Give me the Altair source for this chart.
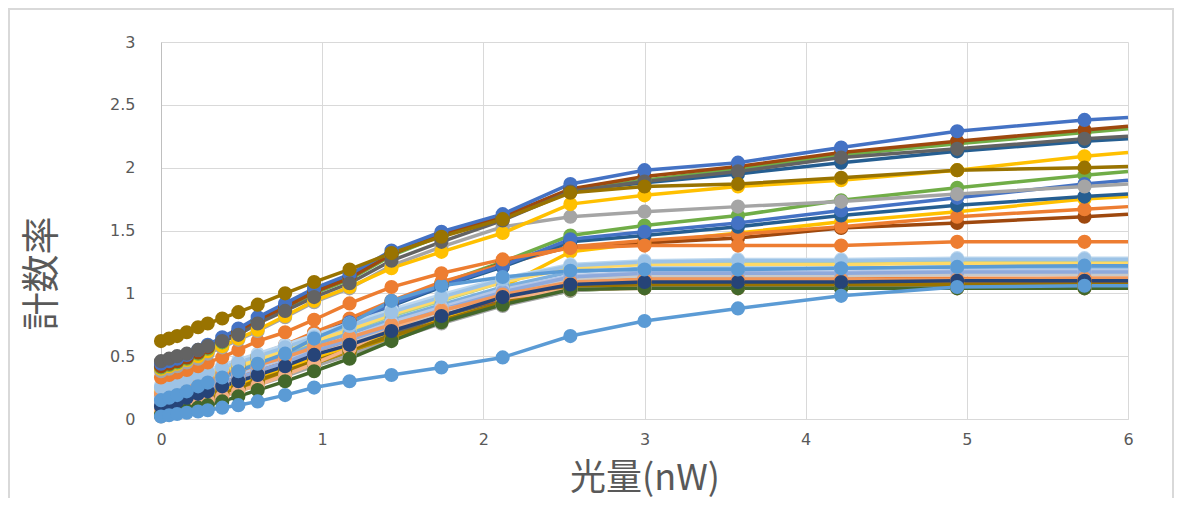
import altair as alt
import pandas as pd

# x positions of the measurement points (nW); last entry is the plot edge
x_vals = [0, 0.05, 0.1, 0.16, 0.23, 0.29, 0.38, 0.48, 0.60, 0.77, 0.95, 1.17,
          1.43, 1.74, 2.12, 2.54, 3.0, 3.58, 4.22, 4.94, 5.73, 6.0]

# ---- lower cluster (saturating near 1.0 - 1.3) ----
low_pale_green = [0.24,0.26,0.28,0.31,0.34,0.36,0.40,0.44,0.49,0.56,0.64,0.73,0.84,0.96,1.10,1.21,1.25,1.25,1.26,1.26,1.27,1.27]
low_pale_blue  = [0.27,0.29,0.31,0.34,0.37,0.39,0.43,0.47,0.52,0.59,0.67,0.76,0.87,0.99,1.12,1.23,1.26,1.27,1.27,1.28,1.28,1.28]
low_light_blue = [0.25,0.27,0.29,0.32,0.35,0.37,0.41,0.45,0.50,0.57,0.65,0.74,0.85,0.97,1.11,1.22,1.25,1.26,1.26,1.27,1.27,1.27]
low_light_grn  = [0.18,0.20,0.22,0.25,0.29,0.31,0.35,0.39,0.45,0.52,0.60,0.70,0.82,0.94,1.09,1.21,1.24,1.24,1.25,1.25,1.26,1.26]
low_light_yel  = [0.22,0.24,0.26,0.29,0.32,0.34,0.38,0.42,0.47,0.54,0.62,0.71,0.83,0.95,1.09,1.20,1.23,1.23,1.23,1.24,1.24,1.24]
low_sky        = [0.18,0.20,0.22,0.25,0.28,0.30,0.34,0.38,0.43,0.50,0.59,0.68,0.79,0.91,1.05,1.17,1.20,1.20,1.20,1.21,1.21,1.21]
low_lavender   = [0.16,0.18,0.20,0.23,0.26,0.28,0.32,0.36,0.41,0.48,0.56,0.65,0.77,0.89,1.03,1.14,1.17,1.17,1.17,1.18,1.18,1.18]
low_periwinkle = [0.12,0.14,0.16,0.19,0.22,0.24,0.29,0.33,0.38,0.45,0.54,0.63,0.74,0.87,1.01,1.13,1.16,1.16,1.16,1.17,1.17,1.17]
low_light_gray = [0.09,0.11,0.13,0.16,0.20,0.22,0.26,0.30,0.35,0.43,0.51,0.60,0.72,0.85,0.99,1.11,1.14,1.14,1.14,1.15,1.15,1.15]
low_orange     = [0.14,0.16,0.18,0.21,0.24,0.26,0.30,0.34,0.39,0.45,0.53,0.62,0.73,0.85,0.98,1.09,1.12,1.12,1.12,1.12,1.12,1.12]
low_lt_orange  = [0.20,0.22,0.24,0.26,0.29,0.31,0.35,0.38,0.43,0.49,0.57,0.65,0.75,0.86,0.99,1.09,1.11,1.11,1.11,1.11,1.12,1.12]
low_rust       = [0.11,0.13,0.15,0.18,0.21,0.23,0.27,0.31,0.36,0.43,0.51,0.60,0.71,0.83,0.96,1.07,1.10,1.10,1.10,1.10,1.10,1.10]
low_yellow     = [0.08,0.10,0.12,0.15,0.18,0.20,0.24,0.28,0.33,0.40,0.48,0.57,0.68,0.80,0.94,1.05,1.08,1.08,1.08,1.08,1.08,1.08]
low_olive      = [0.05,0.07,0.09,0.12,0.15,0.17,0.21,0.25,0.31,0.38,0.46,0.55,0.66,0.78,0.93,1.04,1.07,1.07,1.07,1.07,1.08,1.08]
low_gold       = [0.04,0.06,0.08,0.11,0.14,0.16,0.20,0.24,0.29,0.36,0.44,0.54,0.65,0.78,0.92,1.04,1.07,1.07,1.07,1.07,1.07,1.07]
low_dark_gray  = [0.06,0.07,0.09,0.11,0.14,0.16,0.20,0.24,0.29,0.36,0.44,0.54,0.67,0.82,0.95,1.05,1.06,1.06,1.06,1.06,1.06,1.06]
low_green      = [0.04,0.06,0.08,0.11,0.14,0.16,0.20,0.24,0.29,0.36,0.44,0.53,0.65,0.77,0.91,1.02,1.05,1.05,1.05,1.05,1.05,1.05]
low_gray       = [0.02,0.04,0.06,0.09,0.12,0.14,0.18,0.22,0.27,0.34,0.42,0.51,0.63,0.76,0.90,1.02,1.05,1.05,1.05,1.05,1.05,1.05]
low_salmon     = [0.07,0.08,0.09,0.11,0.13,0.15,0.18,0.22,0.27,0.35,0.44,0.56,0.72,0.87,0.96,1.03,1.04,1.04,1.04,1.04,1.04,1.04]
low_dark_green = [0.03,0.04,0.05,0.07,0.09,0.11,0.14,0.18,0.23,0.30,0.38,0.48,0.62,0.77,0.91,1.03,1.04,1.04,1.04,1.04,1.04,1.04]
low_navy       = [0.10,0.12,0.14,0.17,0.20,0.22,0.26,0.30,0.35,0.42,0.51,0.59,0.70,0.82,0.97,1.07,1.09,1.09,1.09,1.10,1.10,1.10]
low_blue       = [0.15,0.17,0.19,0.22,0.26,0.29,0.33,0.38,0.44,0.52,0.64,0.76,0.94,1.06,1.13,1.18,1.19,1.19,1.20,1.21,1.22,1.22]
slow_blue      = [0.02,0.03,0.04,0.05,0.06,0.07,0.09,0.11,0.14,0.19,0.25,0.30,0.35,0.41,0.49,0.66,0.78,0.88,0.98,1.05,1.06,1.06]

# ---- middle group (branching off after 2 nW) ----
mid_brown      = [0.21,0.23,0.25,0.28,0.31,0.34,0.38,0.43,0.49,0.57,0.67,0.78,0.92,1.07,1.24,1.37,1.40,1.44,1.52,1.56,1.61,1.63]
mid_orange     = [0.23,0.25,0.27,0.30,0.33,0.36,0.40,0.45,0.51,0.59,0.69,0.80,0.94,1.09,1.23,1.37,1.42,1.47,1.53,1.61,1.67,1.69]
mid_yellow     = [0.12,0.14,0.16,0.19,0.22,0.24,0.28,0.32,0.37,0.44,0.52,0.61,0.72,0.86,1.05,1.33,1.40,1.48,1.57,1.65,1.75,1.77]
mid_dark_blue  = [0.19,0.21,0.23,0.26,0.29,0.32,0.36,0.41,0.47,0.55,0.65,0.76,0.90,1.05,1.21,1.41,1.46,1.53,1.62,1.70,1.77,1.79]
mid_blue       = [0.20,0.22,0.24,0.27,0.30,0.33,0.37,0.42,0.48,0.56,0.66,0.77,0.91,1.06,1.22,1.43,1.49,1.56,1.66,1.76,1.87,1.90]
mid_green      = [0.22,0.24,0.26,0.29,0.32,0.35,0.39,0.44,0.50,0.58,0.68,0.79,0.93,1.08,1.25,1.46,1.54,1.62,1.74,1.84,1.94,1.97]
flat_orange    = [0.33,0.35,0.37,0.39,0.42,0.45,0.49,0.55,0.62,0.69,0.79,0.92,1.05,1.16,1.27,1.36,1.38,1.38,1.38,1.41,1.41,1.41]

# ---- top group ----
top_gray       = [0.38,0.40,0.42,0.45,0.48,0.52,0.57,0.63,0.70,0.81,0.93,1.04,1.22,1.37,1.53,1.61,1.65,1.69,1.73,1.79,1.85,1.87]
top_yellow     = [0.40,0.42,0.44,0.47,0.50,0.54,0.58,0.64,0.71,0.82,0.94,1.05,1.20,1.33,1.48,1.71,1.78,1.85,1.90,1.98,2.09,2.12]
top_dark_blue  = [0.43,0.45,0.47,0.50,0.54,0.58,0.63,0.70,0.79,0.90,1.02,1.13,1.31,1.46,1.60,1.82,1.88,1.95,2.04,2.13,2.21,2.23]
top_green      = [0.41,0.43,0.45,0.48,0.52,0.56,0.61,0.68,0.77,0.88,1.00,1.11,1.30,1.46,1.60,1.82,1.90,1.99,2.10,2.19,2.28,2.31]
top_brown      = [0.42,0.44,0.46,0.49,0.53,0.57,0.62,0.69,0.78,0.89,1.01,1.12,1.31,1.47,1.61,1.83,1.93,2.01,2.12,2.21,2.30,2.33]
top_blue       = [0.44,0.46,0.48,0.51,0.55,0.59,0.65,0.72,0.81,0.92,1.04,1.15,1.34,1.49,1.63,1.87,1.98,2.04,2.16,2.29,2.38,2.40]
top_dark_gray  = [0.46,0.48,0.50,0.52,0.55,0.58,0.62,0.67,0.76,0.86,0.97,1.08,1.26,1.41,1.58,1.81,1.89,1.97,2.08,2.15,2.23,2.25]
top_olive      = [0.62,0.64,0.66,0.69,0.73,0.76,0.80,0.85,0.91,1.00,1.09,1.19,1.32,1.45,1.59,1.80,1.85,1.87,1.92,1.98,2.00,2.01]

# drawing order: first listed is drawn at the bottom
series = [
    (mid_yellow, "#FFC000"), (mid_green, "#70AD47"), (mid_brown, "#9E480E"),
    (mid_orange, "#ED7D31"), (mid_dark_blue, "#255E91"), (mid_blue, "#4472C4"),
    (low_yellow, "#FFC000"), (low_green, "#70AD47"), (low_gray, "#A5A5A5"),
    (low_dark_gray, "#636363"), (low_gold, "#BF9000"), (low_olive, "#997300"),
    (low_rust, "#C55A11"), (low_orange, "#ED7D31"), (low_light_gray, "#C9C9C9"),
    (low_pale_green, "#C5E0B4"), (low_light_grn, "#A9D18E"), (low_light_yel, "#FFD966"),
    (low_sky, "#7CAFDD"), (low_lavender, "#B4C7E7"), (low_periwinkle, "#8FAADC"),
    (low_salmon, "#F4B183"), (low_dark_green, "#43682B"), (low_lt_orange, "#F1975A"),
    (low_navy, "#264478"), (low_pale_blue, "#BDD7EE"), (low_light_blue, "#9DC3E6"),
    (low_blue, "#5B9BD5"), (slow_blue, "#5B9BD5"),
    (flat_orange, "#ED7D31"),
    (top_gray, "#A5A5A5"), (top_yellow, "#FFC000"), (top_dark_blue, "#255E91"),
    (top_green, "#70AD47"), (top_brown, "#9E480E"), (top_blue, "#4472C4"),
    (top_dark_gray, "#636363"), (top_olive, "#997300"),
]

rows = []
ids = []
colors = []
for i, (vals, col) in enumerate(series):
    assert len(vals) == len(x_vals), i
    sid = f"s{i:02d}"
    ids.append(sid)
    colors.append(col)
    for xv, yv in zip(x_vals, vals):
        rows.append({"x": xv, "y": yv, "s": sid})
df = pd.DataFrame(rows)

FONT = "DejaVu Sans"
CJK = "Noto Sans CJK JP"
TXT = "#595959"
GRID = "#D9D9D9"

x_enc = alt.X("x:Q", scale=alt.Scale(domain=[0, 6], nice=False),
              axis=alt.Axis(values=[0, 1, 2, 3, 4, 5, 6], title="光量(nW)", ticks=False,
                            labelFont=FONT, labelFontSize=16, labelColor=TXT, labelPadding=12,
                            titleFont=CJK, titleFontSize=36, titleFontWeight="normal",
                            titleColor=TXT, titleY=70, titleBaseline="alphabetic",
                            grid=True, gridColor=GRID, domainColor=GRID, labelFlush=False))
y_enc = alt.Y("y:Q", scale=alt.Scale(domain=[0, 3], nice=False),
              axis=alt.Axis(values=[0, 0.5, 1, 1.5, 2, 2.5, 3], title="計数率", ticks=False,
                            labelExpr="'' + datum.value",
                            labelFont=FONT, labelFontSize=16, labelColor=TXT, labelPadding=26,
                            titleFont=CJK, titleFontSize=38, titleFontWeight="normal",
                            titleColor=TXT, titleAngle=270, titleX=-119, titleY=231,
                            titleAlign="center", titleBaseline="middle",
                            grid=True, gridColor=GRID, domainColor="#BFBFBF"))
color = alt.Color("s:N", scale=alt.Scale(domain=ids, range=colors), legend=None)

lines = alt.Chart(df).mark_line(strokeWidth=3.5).encode(x=x_enc, y=y_enc, color=color)
points = alt.Chart(df).transform_filter("datum.x < 5.9").mark_circle(size=200, opacity=1).encode(
    x=x_enc, y=y_enc, color=color)

border = alt.Chart(pd.DataFrame({"a": [0]})).mark_rect(
    fill="transparent", stroke=GRID, strokeWidth=2).encode(
    x=alt.value(-152), x2=alt.value(1012), y=alt.value(-33), y2=alt.value(480))

chart = alt.layer(border, lines, points).properties(
    width=967, height=377,
    autosize=alt.AutoSizeParams(type="none"),
    padding={"left": 153, "top": 34, "right": 47, "bottom": 79},
    background="white",
).configure_view(stroke="transparent")

chart.save("out.html", embed_options={"renderer": "svg", "actions": False})
